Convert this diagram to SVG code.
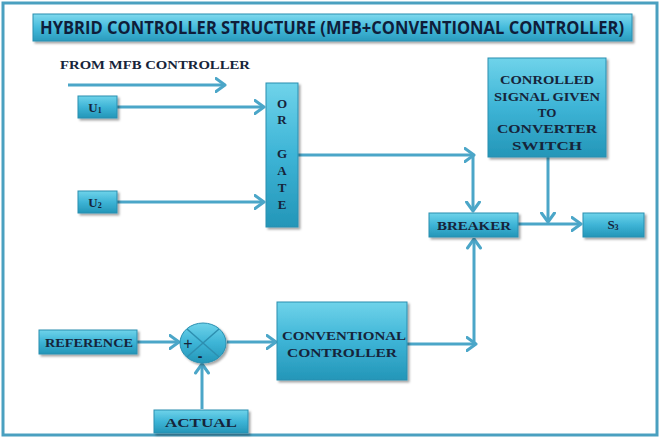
<svg xmlns="http://www.w3.org/2000/svg" width="660" height="438" viewBox="0 0 660 438">
<defs>
<linearGradient id="boxg" x1="0" y1="0" x2="0" y2="1">
<stop offset="0" stop-color="#6fd3ea"/>
<stop offset="0.5" stop-color="#3db4d6"/>
<stop offset="1" stop-color="#2496b8"/>
</linearGradient>
<linearGradient id="titleg" x1="0" y1="0" x2="0" y2="1">
<stop offset="0" stop-color="#7fd9ee"/>
<stop offset="0.5" stop-color="#45bbdc"/>
<stop offset="1" stop-color="#2a9bbd"/>
</linearGradient>
<filter id="sh" x="-10%" y="-10%" width="130%" height="140%">
<feDropShadow dx="2" dy="2" stdDeviation="1.2" flood-color="#000" flood-opacity="0.35"/>
</filter>
<marker id="ah" viewBox="0 0 12 16" refX="10.5" refY="8" markerWidth="12" markerHeight="16" markerUnits="userSpaceOnUse" orient="auto">
<path d="M1.5,1.5 L10.5,8 L1.5,14.5" fill="none" stroke="#4ba6c8" stroke-width="3" stroke-linecap="round" stroke-linejoin="round"/>
</marker>
</defs>
<style>
.box{fill:url(#boxg);stroke:#2a8fb0;stroke-width:1;filter:url(#sh)}
.t{font-family:"Liberation Serif","Times New Roman",serif;font-weight:bold;font-size:13px;fill:#16243a;text-anchor:middle}
.ln{fill:none;stroke:#4ba6c8;stroke-width:3;stroke-linecap:butt}
.ar{marker-end:url(#ah)}
</style>
<rect x="0" y="0" width="660" height="438" fill="#ffffff"/>
<rect x="3" y="3" width="654" height="432" fill="#ffffff" stroke="#4aa0c0" stroke-width="3"/>

<g id="title">
<rect x="33" y="14" width="599" height="27" fill="url(#titleg)" stroke="#2a8fb0" stroke-width="1" filter="url(#sh)"/>
<text x="332" y="34" font-family="'Open Sans','Noto Sans','Liberation Sans',sans-serif" font-weight="bold" font-size="17.5" fill="#0f1d3a" text-anchor="middle" textLength="584" lengthAdjust="spacingAndGlyphs">HYBRID CONTROLLER STRUCTURE (MFB+CONVENTIONAL CONTROLLER)</text>
</g>

<g id="from-mfb">
<text class="t" x="155" y="69" font-size="14" textLength="190" lengthAdjust="spacingAndGlyphs">FROM MFB CONTROLLER</text>
</g>

<g id="connectors">
<line class="ln ar" x1="68" y1="85" x2="225" y2="85"/>
<line class="ln ar" x1="117" y1="107" x2="264" y2="107"/>
<line class="ln ar" x1="117" y1="202" x2="264" y2="202"/>
<line class="ln ar" x1="298" y1="155" x2="474" y2="155"/>
<line class="ln ar" x1="473" y1="155" x2="473" y2="211"/>
<line class="ln ar" x1="518" y1="224" x2="581" y2="224"/>
<line class="ln ar" x1="548" y1="157" x2="548" y2="222"/>
<line class="ln ar" x1="137" y1="342" x2="179" y2="342"/>
<line class="ln ar" x1="227" y1="342" x2="276" y2="342"/>
<line class="ln ar" x1="202" y1="409" x2="202" y2="364"/>
<line class="ln ar" x1="407" y1="344" x2="476" y2="344"/>
<line class="ln ar" x1="474" y1="344" x2="474" y2="239"/>
</g>

<g id="u1">
<rect class="box" x="78" y="96" width="39" height="22"/>
<text class="t" x="95" y="111.5" font-size="12">U<tspan font-size="8" dy="1">1</tspan></text>
</g>

<g id="u2">
<rect class="box" x="78" y="191" width="39" height="22"/>
<text class="t" x="95" y="206.5" font-size="12">U<tspan font-size="8" dy="1">2</tspan></text>
</g>

<g id="or-gate">
<rect class="box" x="266" y="83" width="32" height="144"/>
<text class="t" x="282" y="108">O</text>
<text class="t" x="282" y="124">R</text>
<text class="t" x="282" y="158">G</text>
<text class="t" x="282" y="175">A</text>
<text class="t" x="282" y="192">T</text>
<text class="t" x="282" y="209">E</text>
</g>

<g id="controlled-signal">
<rect class="box" x="488" y="58" width="118" height="99"/>
<text class="t" x="547" y="84" font-size="14" textLength="94" lengthAdjust="spacingAndGlyphs">CONROLLED</text>
<text class="t" x="547" y="101" font-size="14" textLength="106" lengthAdjust="spacingAndGlyphs">SIGNAL GIVEN</text>
<text class="t" x="547" y="117" font-size="14">TO</text>
<text class="t" x="547" y="133" font-size="14" textLength="100" lengthAdjust="spacingAndGlyphs">CONVERTER</text>
<text class="t" x="547" y="150" font-size="14" textLength="70" lengthAdjust="spacingAndGlyphs">SWITCH</text>
</g>

<g id="breaker">
<rect class="box" x="429" y="213" width="89" height="24"/>
<text class="t" x="474" y="229.5" font-size="14" textLength="74" lengthAdjust="spacingAndGlyphs">BREAKER</text>
</g>

<g id="s3">
<rect class="box" x="583" y="213" width="61" height="24"/>
<text class="t" x="613" y="229" font-size="12">S<tspan font-size="8" dy="1">3</tspan></text>
</g>

<g id="reference">
<rect class="box" x="39" y="330" width="98" height="24"/>
<text class="t" x="89" y="347" font-size="14" textLength="88" lengthAdjust="spacingAndGlyphs">REFERENCE</text>
</g>

<g id="summer">
<ellipse cx="203" cy="343" rx="23" ry="20" fill="url(#boxg)" stroke="#2a8fb0" stroke-width="1" filter="url(#sh)"/>
<line x1="187" y1="329" x2="219" y2="357" stroke="#2d8fb0" stroke-width="1.5"/>
<line x1="219" y1="329" x2="187" y2="357" stroke="#2d8fb0" stroke-width="1.5"/>
<text x="188" y="349" font-family="'Liberation Sans',Arial,sans-serif" font-size="16" fill="#16243a" text-anchor="middle">+</text>
<text x="200" y="361" font-family="'Liberation Sans',Arial,sans-serif" font-size="14" font-weight="bold" fill="#16243a" text-anchor="middle">-</text>
</g>

<g id="conventional-controller">
<rect class="box" x="277" y="302" width="130" height="78"/>
<text class="t" x="344" y="340" font-size="14" textLength="124" lengthAdjust="spacingAndGlyphs">CONVENTIONAL</text>
<text class="t" x="342" y="357" font-size="14" textLength="110" lengthAdjust="spacingAndGlyphs">CONTROLLER</text>
</g>

<g id="actual">
<rect class="box" x="154" y="410" width="94" height="23"/>
<text class="t" x="201" y="426.5" font-size="14" textLength="72" lengthAdjust="spacingAndGlyphs">ACTUAL</text>
</g>
</svg>
